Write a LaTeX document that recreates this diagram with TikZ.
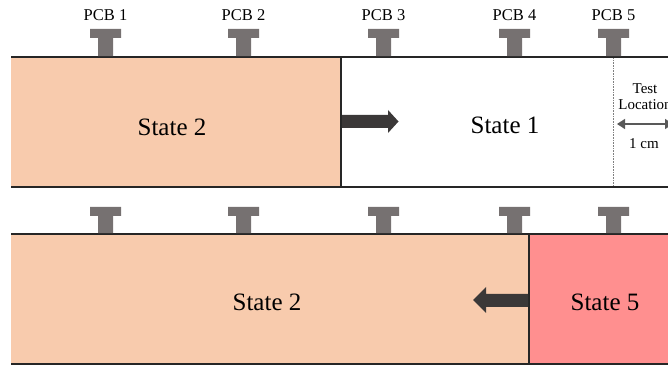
\documentclass[tikz,border=0pt]{standalone}
\usepackage{fontspec}
\setmainfont{Liberation Serif}
\usetikzlibrary{arrows.meta}
\definecolor{lorange}{HTML}{F8CBAD}
\definecolor{lred}{HTML}{FF8F8F}
\definecolor{tgray}{HTML}{767171}
\definecolor{adark}{HTML}{3B3838}
\begin{document}
\begin{tikzpicture}[x=1pt,y=1pt,
  pcb/.style={fill=tgray},
  bigarrow/.style={fill=adark},
  lbl/.style={font=\fontsize{15}{17}\selectfont, inner sep=0pt},
  pcblbl/.style={font=\fontsize{16.5}{18}\selectfont, inner sep=0pt},
  statelbl/.style={font=\fontsize{25}{28}\selectfont, inner sep=0pt},
  border/.style={line width=1.8pt, draw=black!85}]
\useasboundingbox (0,0) rectangle (668,366);
\clip (0,0) rectangle (668,366);
% ---- top strip
\fill[lorange] (11,179) rectangle (341,309);
\draw[line width=1.3pt, draw=black!85] (341,179) -- (341,309);
\draw[densely dotted, draw=gray, line width=0.6pt] (613,179) -- (613,309);
\draw[border] (11,309) -- (670,309);
\draw[border] (11,179) -- (670,179);
\foreach \x/\n in {105.5/1, 243.5/2, 383.5/3, 514.5/4, 613.5/5} {
  \fill[pcb] (\x-7.5,309.9) -- (\x-7.5,328) -- (\x-15.5,328) -- (\x-15.5,337)
    -- (\x+15.5,337) -- (\x+15.5,328) -- (\x+7.5,328) -- (\x+7.5,309.9) -- cycle;
  \node[pcblbl] (pcb\n) at (\x,351) {PCB \n};
}
% right arrow
\fill[bigarrow] (342,238) -- (388,238) -- (388,233) -- (398.5,244.5) -- (388,256)
  -- (388,251) -- (342,251) -- cycle;
\node[statelbl] (s2a) at (172,239) {State 2};
\node[statelbl] (s1) at (505,241) {State 1};
\node[lbl] (test) at (645,277) {Test};
\node[lbl] (loc) at (645,261) {Location};
\coordinate (dl) at (617,242);
\coordinate (dr) at (673,242);
\draw[draw=black!65, line width=1.5pt, {Triangle[length=8pt,width=10pt]}-{Triangle[length=8pt,width=10pt]}] (dl) -- (dr);
\node[lbl] (cm) at (644,222) {1 cm};
% ---- bottom strip
\fill[lorange] (11,2) rectangle (529,132);
\fill[lred] (529,2) rectangle (670,132);
\draw[line width=1.3pt, draw=black!85] (529,2) -- (529,132);
\draw[border] (11,132) -- (670,132);
\draw[border] (11,2) -- (670,2);
\foreach \x in {105.5, 243.5, 383.5, 514.5, 613.5} {
  \fill[pcb] (\x-7.5,132.9) -- (\x-7.5,150) -- (\x-15.5,150) -- (\x-15.5,159)
    -- (\x+15.5,159) -- (\x+15.5,150) -- (\x+7.5,150) -- (\x+7.5,132.9) -- cycle;
}
% left arrow
\fill[bigarrow] (528,59) -- (486,59) -- (486,53) -- (473,66) -- (486,79)
  -- (486,72) -- (528,72) -- cycle;
\node[statelbl] (s2b) at (267,64) {State 2};
\node[statelbl] (s5) at (605,64) {State 5};
\end{tikzpicture}
\end{document}
